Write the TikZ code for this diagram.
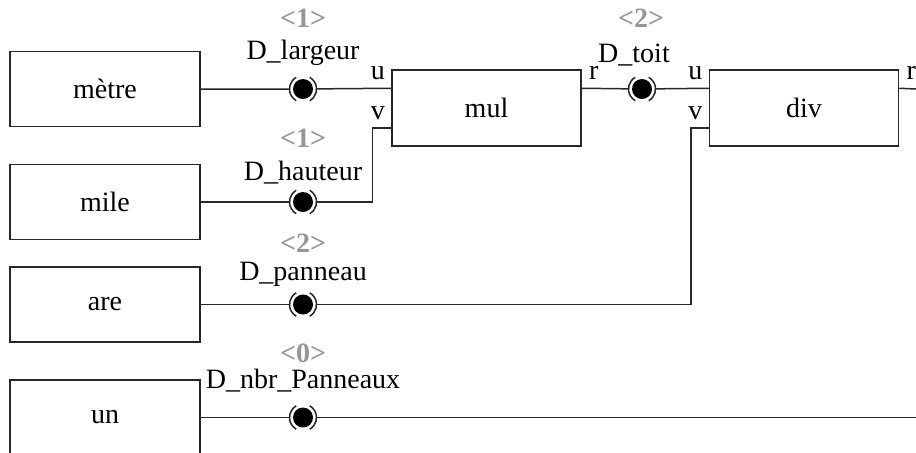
\documentclass[tikz,border=0pt]{standalone}
\usepackage{fontspec}
\setmainfont{Liberation Serif}
\definecolor{gris}{RGB}{150,150,150}
\definecolor{trait}{RGB}{40,40,40}

\begin{document}
\begin{tikzpicture}[x=0.5pt, y=-0.5pt, font=\fontsize{14}{16}\selectfont,
  bloc/.style={draw=trait, line width=0.75pt, minimum width=95pt, minimum height=37.5pt, inner sep=0pt},
  op/.style={bloc, minimum width=94.5pt, minimum height=38pt},
  sonde/.style={circle, minimum size=13.5pt, inner sep=0pt,
    path picture={\fill (path picture bounding box.center) circle (5pt);}},
  anneau/.style={draw=trait, line width=0.75pt},
  fil/.style={draw=trait, line width=0.75pt},
  port/.style={anchor=south east, inner xsep=3pt, inner ysep=4pt},
  sortie/.style={anchor=south west, inner xsep=3.5pt, inner ysep=4pt},
  nom/.style={anchor=base, inner sep=0pt},
  rang/.style={anchor=base, inner sep=0pt, text=gris, font=\fontsize{14}{16}\selectfont\bfseries}]
\useasboundingbox (0,0) rectangle (916,452);

% sources
\node[bloc] (metre) at (105,89) {mètre};
\node[bloc] (mile) at (105,202) {mile};
\node[bloc] (are) at (105,304.5) {are};
\node[bloc] (un) at (105,417.5) {un};

% operations
\node[op] (mul) at (486.5,108) {mul};
\node[op] (div) at (804,108) {div};
\foreach \o in {mul,div} {
  \coordinate (\o-u) at ([yshift=-9.5pt]\o.north west);
  \coordinate (\o-v) at ([yshift=9.5pt]\o.south west);
  \coordinate (\o-r) at ([yshift=-9.5pt]\o.north east);
  \node[port] (\o-lu) at (\o-u) {u};
  \node[port] (\o-lv) at (\o-v) {v};
  \node[sortie] (\o-lr) at (\o-r) {r};
}
\coordinate (fin-r) at (916,89);
\coordinate (fin-n) at (916,417.5);

% sondes
\node[sonde] (dl) at (303,89) {};
\node[sonde] (dh) at (303,202) {};
\node[sonde] (dp) at (303,304.5) {};
\node[sonde] (dn) at (303,417.5) {};
\node[sonde] (dt) at (642,89) {};
\foreach \s in {dl,dh,dp,dn,dt}
  \draw[anneau] (\s.center) ++(120:6.75pt) arc[start angle=120, end angle=240, radius=6.75pt]
    (\s.center) ++(-60:6.75pt) arc[start angle=-60, end angle=60, radius=6.75pt];

% noms et rangs
\node[nom] (nl) at (303,59) {D\_largeur};
\node[rang] (rl) at (303,27) {<1>};
\node[nom] (nh) at (303,180) {D\_hauteur};
\node[rang] (rh) at (303,147) {<1>};
\node[nom] (np) at (303,280) {D\_panneau};
\node[rang] (rp) at (303,252) {<2>};
\node[nom] (nn) at (303,388) {D\_nbr\_Panneaux};
\node[rang] (rn) at (303,362) {<0>};
\node[nom] (nt) at (634,62) {D\_toit};
\node[rang] (rt) at (641,27) {<2>};

% fils
\draw[fil] (metre.east) -- (dl) -- (mul-u);
\draw[fil] (mile.east) -- (dh) -| ([xshift=-9.5pt]mul-v) -- (mul-v);
\draw[fil] (are.east) -- (dp) -| ([xshift=-9pt]div-v) -- (div-v);
\draw[fil] (mul-r) -- (dt) -- (div-u);
\draw[fil] (div-r) -- (fin-r);
\draw[fil] (un.east) -- (dn) -- (fin-n);
\end{tikzpicture}
\end{document}
